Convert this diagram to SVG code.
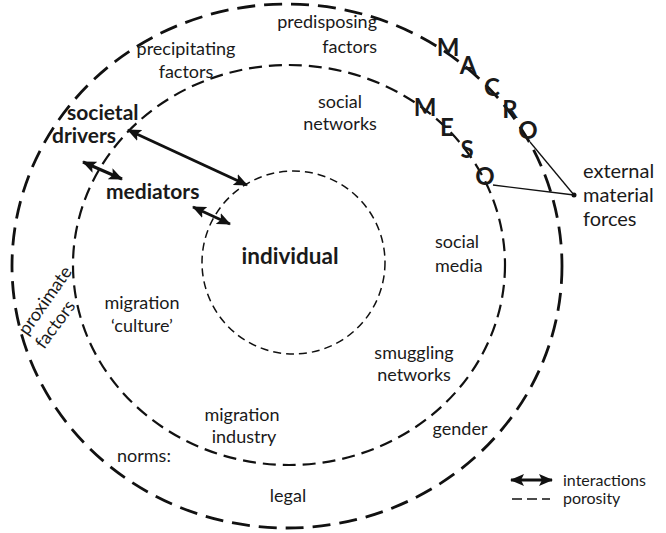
<svg xmlns="http://www.w3.org/2000/svg" width="666" height="533" viewBox="0 0 666 533">
<style>
text{font-family:Lato,"Liberation Sans",sans-serif;fill:#1a1a1a}
.t{font-size:18px}
.b{font-size:21px;font-weight:bold}
.L{font-size:24px;font-weight:bold}
.e{font-size:20px}
.g{font-size:16px}
.ring{fill:none;stroke:#111}
.arr{stroke:#111;stroke-width:3;marker-start:url(#ah);marker-end:url(#ah)}
.thin{stroke:#111;stroke-width:1.3;fill:none}
</style>
<defs>
<marker id="ah" viewBox="0 0 14 12" refX="13" refY="6" markerWidth="14" markerHeight="12" markerUnits="userSpaceOnUse" orient="auto-start-reverse">
<path d="M0,0 L14,6 L0,12 L3,6 Z" fill="#111"/>
</marker>
</defs>
<rect width="666" height="533" fill="#fff"/>
<g id="rings">
<ellipse id="macro-ring" class="ring" cx="287" cy="266" rx="275" ry="262" stroke-width="2.8" stroke-dasharray="18 9"/>
<ellipse id="meso-ring" class="ring" cx="289" cy="265" rx="216" ry="200" stroke-width="2.2" stroke-dasharray="13 7"/>
<circle id="individual-ring" class="ring" cx="293.5" cy="262.5" r="91.5" stroke-width="1.5" stroke-dasharray="8 5"/>
</g>
<g id="connectors">
<line class="arr" x1="128" y1="130" x2="247" y2="185"/>
<line class="arr" x1="83" y1="162" x2="122" y2="179"/>
<line class="arr" x1="193" y1="207" x2="230" y2="224"/>
<line class="thin" x1="530" y1="142" x2="574" y2="195"/>
<line class="thin" x1="493" y1="185" x2="574" y2="195"/>
<circle cx="574" cy="195" r="2.5" fill="#111"/>
</g>
<g id="macro-label" class="L" text-anchor="middle">
<text x="448" y="56">M</text>
<text x="468" y="74">A</text>
<text x="492" y="96">C</text>
<text x="510" y="118">R</text>
<text x="528" y="139">O</text>
</g>
<g id="meso-label" class="L" text-anchor="middle">
<text x="425" y="116">M</text>
<text x="447" y="136">E</text>
<text x="467" y="158">S</text>
<text x="485" y="185">O</text>
</g>
<g id="predisposing" class="t" text-anchor="end">
<text x="377" y="28">predisposing</text>
<text x="377" y="53">factors</text>
</g>
<g id="precipitating" class="t" text-anchor="middle">
<text x="186" y="55">precipitating</text>
<text x="186" y="78">factors</text>
</g>
<g id="social-networks" class="t" text-anchor="middle">
<text x="340" y="108">social</text>
<text x="340" y="130">networks</text>
</g>
<g id="societal-drivers" class="b">
<text x="67" y="120">societal</text>
<text x="52" y="143">drivers</text>
</g>
<g id="mediators" class="b"><text x="106" y="199">mediators</text></g>
<g id="individual" style="font-size:22.5px;font-weight:bold"><text x="290" y="264" text-anchor="middle">individual</text></g>
<g id="social-media" class="t">
<text x="435" y="248">social</text>
<text x="435" y="272">media</text>
</g>
<g id="migration-culture" class="t" text-anchor="middle">
<text x="142" y="309">migration</text>
<text x="142" y="332">‘culture’</text>
</g>
<g id="smuggling-networks" class="t" text-anchor="middle">
<text x="414" y="359">smuggling</text>
<text x="414" y="381">networks</text>
</g>
<g id="migration-industry" class="t" text-anchor="middle">
<text x="242" y="421">migration</text>
<text x="244" y="443">industry</text>
</g>
<g id="norms" class="t"><text x="117" y="462">norms:</text></g>
<g id="legal" class="t"><text x="288" y="502" text-anchor="middle">legal</text></g>
<g id="gender" class="t"><text x="460" y="435" text-anchor="middle">gender</text></g>
<g id="proximate-factors" class="t" text-anchor="middle">
<text transform="translate(50,304) rotate(-55)">proximate</text>
<text transform="translate(60,328) rotate(-54)">factors</text>
</g>
<g id="external-material-forces" class="e">
<text x="583" y="178">external</text>
<text x="583" y="202">material</text>
<text x="583" y="226">forces</text>
</g>
<g id="legend">
<line class="arr" x1="511" y1="480" x2="552" y2="480"/>
<line x1="512" y1="499" x2="550" y2="499" stroke="#111" stroke-width="1.5" stroke-dasharray="10 5"/>
<text class="g" x="563" y="486">interactions</text>
<text class="g" x="563" y="504">porosity</text>
</g>
</svg>
